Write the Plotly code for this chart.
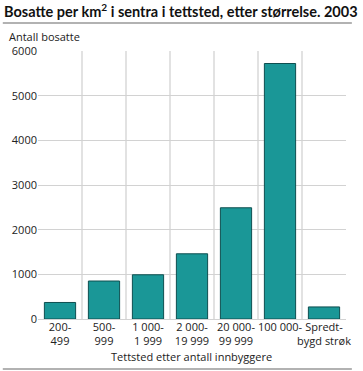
import plotly.graph_objects as go

categories = ["200-<br>499", "500-<br>999", "1 000-<br>1 999", "2 000-<br>19 999",
              "20 000-<br>99 999", "100 000-", "Spredt-<br>bygd strøk"]
values = [370, 850, 990, 1460, 2490, 5720, 270]
y_ticks = [0, 1000, 2000, 3000, 4000, 5000, 6000]

W, H = 363, 371
L, R, T, B = 36, 12, 51, 52
pw, ph = W - L - R, H - T - B

def px_x(x):
    return (x - L) / pw

def px_y(y):
    return (H - B - y) / ph

font = "Open Sans, sans-serif"

fig = go.Figure(go.Bar(
    x=categories, y=values,
    marker=dict(color="#1a9797", line=dict(color="#0e4f50", width=1)),
    width=0.71,
))

fig.update_layout(
    width=W, height=H,
    margin=dict(l=L, r=R, t=T, b=B),
    paper_bgcolor="white", plot_bgcolor="white",
    showlegend=False,
    font=dict(family=font, size=11, color="#222"),
    title=dict(text="<b>Bosatte per km<sup>2</sup> i sentra i tettsted, etter størrelse. 2003</b>",
               x=4 / W, xanchor="left", y=1 - 12 / H, yanchor="middle",
               font=dict(family="Lato, sans-serif", size=14.5, color="#111")),
    xaxis=dict(type="category", tickson="boundaries", showgrid=True,
               gridcolor="#e2e2e2", gridwidth=2, ticks="", showline=False,
               tickfont=dict(size=11, color="#222"), tickangle=0),
    yaxis=dict(range=[0, 6000], tickvals=y_ticks, ticktext=[str(v) for v in y_ticks],
               showgrid=True, gridcolor="#d2d2d2", gridwidth=1,
               zeroline=True, zerolinecolor="#d2d2d2", zerolinewidth=1,
               ticks="", showline=False, tickfont=dict(size=11, color="#222")),
    shapes=[
        dict(type="line", xref="paper", yref="paper", x0=px_x(0), x1=px_x(357),
             y0=px_y(23), y1=px_y(23), line=dict(color="#999", width=1.5)),
        dict(type="line", xref="paper", yref="paper", x0=px_x(0), x1=px_x(357),
             y0=px_y(369), y1=px_y(369), line=dict(color="#999", width=1.5)),
    ],
    annotations=[
        dict(text="Antall bosatte", xref="paper", yref="paper", x=px_x(4), y=px_y(37),
             xanchor="left", yanchor="middle", showarrow=False,
             font=dict(size=11, color="#222")),
        dict(text="Tettsted etter antall innbyggere", xref="paper", yref="paper",
             x=px_x(193), y=px_y(356), xanchor="center", yanchor="middle", showarrow=False,
             font=dict(size=11, color="#222")),
    ],
    bargap=0.29,
)

fig.write_html("out.html", config={"displayModeBar": False},
               post_script="document.body.style.margin='0';document.body.style.padding='0';")
